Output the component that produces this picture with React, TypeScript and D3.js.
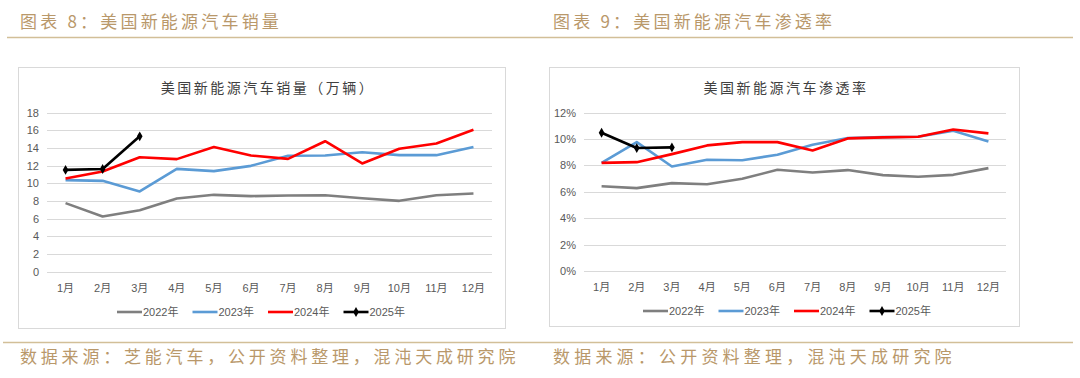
import React from 'react';
import * as d3 from 'd3';

const months = ['1月', '2月', '3月', '4月', '5月', '6月', '7月', '8月', '9月', '10月', '11月', '12月'];
const seriesNames = ['2022年', '2023年', '2024年', '2025年'];
const seriesColors = ['#7f7f7f', '#5b9bd5', '#ff0000', '#000000'];

// 美国新能源汽车销量（万辆）
const sales2022 = [7.74, 6.23, 6.94, 8.26, 8.68, 8.53, 8.6, 8.64, 8.3, 8.0, 8.64, 8.83];
const sales2023 = [10.34, 10.26, 9.06, 11.62, 11.36, 11.96, 13.1, 13.13, 13.5, 13.17, 13.17, 14.1];
const sales2024 = [10.53, 11.32, 12.94, 12.72, 14.1, 13.13, 12.75, 14.75, 12.23, 13.89, 14.5, 16.04];
const sales2025 = [11.5, 11.6, 15.3];
const salesTicks = [0, 2, 4, 6, 8, 10, 12, 14, 16, 18];

// 美国新能源汽车渗透率 (%)
const pen2022 = [6.43, 6.28, 6.66, 6.58, 6.99, 7.67, 7.47, 7.65, 7.27, 7.14, 7.29, 7.8];
const pen2023 = [8.2, 9.77, 7.92, 8.43, 8.4, 8.81, 9.57, 10.08, 10.15, 10.18, 10.63, 9.82];
const pen2024 = [8.2, 8.25, 8.86, 9.52, 9.77, 9.77, 9.14, 10.05, 10.13, 10.18, 10.73, 10.43];
const pen2025 = [10.48, 9.32, 9.37];
const penTicks = [0, 2, 4, 6, 8, 10, 12];

const GOLD = '#b9986a';
const CJK = '"Noto Sans CJK SC", "Noto Sans", sans-serif';
const LAT = '"Liberation Sans", Arial, "Noto Sans CJK SC", sans-serif';

type ChartProps = {
  box: [number, number, number, number];
  plotX: [number, number];
  plotY: [number, number];
  yMax: number;
  ticks: number[];
  fmt: (v: number) => string;
  title: string;
  titleX: number;
  data: number[][];
  labelRight: number;
  legendX: number;
  legendY: number;
};

function Chart(p: ChartProps) {
  const x = d3.scaleBand<string>().domain(months).range(p.plotX);
  const cx = (i: number) => (x(months[i]) as number) + x.bandwidth() / 2;
  const y = d3.scaleLinear().domain([0, p.yMax]).range(p.plotY);
  const line = d3
    .line<number>()
    .x((_, i) => cx(i))
    .y((d) => y(d));
  const diamond = d3.symbol().type(d3.symbolDiamond).size(28);
  const [bx, by, bw, bh] = p.box;
  return (
    <g>
      <rect x={bx + 0.5} y={by + 0.5} width={bw} height={bh} fill="#fff" stroke="#d9d9d9" strokeWidth={1} />
      <text
        x={p.titleX}
        y={93}
        textAnchor="middle"
        fontFamily={CJK}
        fontSize={14}
        letterSpacing={2.5}
        fill="#404040"
      >
        {p.title}
      </text>
      {p.ticks.map((t) => (
        <g key={t}>
          <line x1={p.plotX[0]} x2={p.plotX[1]} y1={Math.round(y(t)) + 0.5} y2={Math.round(y(t)) + 0.5} stroke="#d9d9d9" strokeWidth={1} />
          <text x={p.labelRight} y={y(t) + 4} textAnchor="end" fontFamily={LAT} fontSize={11} fill="#595959">
            {p.fmt(t)}
          </text>
        </g>
      ))}
      {months.map((m, i) => (
        <text key={m} x={cx(i)} y={p.plotY[0] + 20} textAnchor="middle" fontFamily={LAT} fontSize={11} fill="#595959">
          {m}
        </text>
      ))}
      {p.data.map((d, k) => (
        <path
          key={k}
          d={line(d) as string}
          fill="none"
          stroke={seriesColors[k]}
          strokeWidth={2.6}
          strokeLinejoin="round"
        />
      ))}
      {p.data[3].map((v, i) => (
        <path key={i} d={diamond() as string} transform={`translate(${cx(i)},${y(v)})`} fill="#000" />
      ))}
      {seriesNames.map((n, k) => {
        const lx = p.legendX + k * 75.5;
        return (
          <g key={n}>
            <line x1={lx} x2={lx + 25} y1={p.legendY} y2={p.legendY} stroke={seriesColors[k]} strokeWidth={2.6} />
            {k === 3 && <path d={diamond() as string} transform={`translate(${lx + 12.5},${p.legendY})`} fill="#000" />}
            <text x={lx + 26} y={p.legendY + 4} fontFamily={LAT} fontSize={11} fill="#595959">
              {n}
            </text>
          </g>
        );
      })}
    </g>
  );
}

export default function App() {
  return (
    <svg
      width={1080}
      height={378}
      style={{ position: 'absolute', left: 0, top: 0, display: 'block', background: '#fff' }}
    >
      <rect x={0} y={0} width={1080} height={378} fill="#fff" />
      <text x={20} y={28} fontFamily={CJK} fontSize={17} letterSpacing={3.2} fill={GOLD}>
        图表 8：美国新能源汽车销量
      </text>
      <text x={553} y={28} fontFamily={CJK} fontSize={17} letterSpacing={3.2} fill={GOLD}>
        图表 9：美国新能源汽车渗透率
      </text>
      <line x1={7} x2={1073} y1={37.5} y2={37.5} stroke="#d2bf98" strokeWidth={1.5} />
      <Chart
        box={[18, 67, 487, 261]}
        plotX={[47, 492]}
        plotY={[271.5, 112.5]}
        yMax={18}
        ticks={salesTicks}
        fmt={(v) => String(v)}
        title="美国新能源汽车销量（万辆）"
        titleX={268}
        data={[sales2022, sales2023, sales2024, sales2025]}
        labelRight={39}
        legendX={117}
        legendY={312}
      />
      <Chart
        box={[549, 67, 470, 259]}
        plotX={[584, 1006]}
        plotY={[271, 112.7]}
        yMax={12}
        ticks={penTicks}
        fmt={(v) => `${v}%`}
        title="美国新能源汽车渗透率"
        titleX={786}
        data={[pen2022, pen2023, pen2024, pen2025]}
        labelRight={576}
        legendX={643}
        legendY={311}
      />
      <line x1={3} x2={1073} y1={342.5} y2={342.5} stroke="#d2bf98" strokeWidth={1.5} />
      <text x={20} y={363} fontFamily={CJK} fontSize={17} letterSpacing={3.8} fill={GOLD}>
        数据来源：芝能汽车，公开资料整理，混沌天成研究院
      </text>
      <text x={553} y={363} fontFamily={CJK} fontSize={17} letterSpacing={4.2} fill={GOLD}>
        数据来源：公开资料整理，混沌天成研究院
      </text>
    </svg>
  );
}
